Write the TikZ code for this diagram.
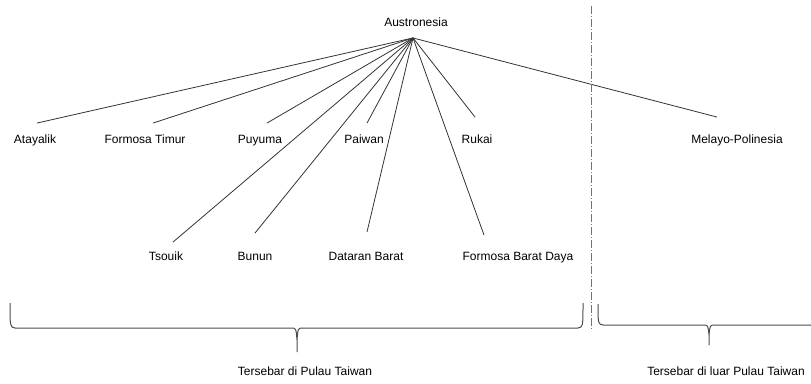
\documentclass[tikz,border=0pt]{standalone}
\usepackage{fontspec}
\setmainfont{Liberation Sans}
\usepackage{tikz}
\usetikzlibrary{shapes}

\begin{document}
\begin{tikzpicture}[x=1pt, y=-1pt,
	lang/.style = {font = \fontsize{12}{14}\selectfont,
				   text height = 9pt,
				   text depth = 2.5pt,
				   inner sep = 3pt},
	branch/.style = {draw = black!80,
					 line width = 0.8pt},
	bracket/.style = {draw = black!70,
					  line width = 1pt}]
	\useasboundingbox (0,0) rectangle (811,383);

	\draw (416, 23) node[lang](aus) {Austronesia};
	\coordinate (hub) at ([xshift = -3pt, yshift = -6pt]aus.south);

	\draw (35, 140)node[lang](ata) {Atayalik};
	\draw (145, 140)node[lang](ftim) {Formosa Timur};
	\draw (260, 140)node[lang](puy) {Puyuma};
	\draw (364, 140)node[lang](pai) {Paiwan};
	\draw (477, 140)node[lang](ruk) {Rukai};
	\draw (737, 140)node[lang](mel) {Melayo-Polinesia};

	\draw (166, 257)node[lang](tso) {Tsouik};
	\draw (255, 257)node[lang](bun) {Bunun};
	\draw (366, 257)node[lang](dat) {Dataran Barat};
	\draw (518, 257)node[lang](fbd) {Formosa Barat Daya};

	\draw (305, 372)node[lang](pulau) {Tersebar di Pulau Taiwan};
	\draw (726, 372)node[lang](luar) {Tersebar di luar Pulau Taiwan};

	\draw[branch] (hub) -- ([xshift = 2pt, yshift = 8pt]ata.north);
	\draw[branch] (hub) -- ([xshift = 8pt, yshift = 8pt]ftim.north);
	\draw[branch] (hub) -- ([xshift = 7pt, yshift = 8pt]puy.north);
	\draw[branch] (hub) -- ([xshift = 3pt, yshift = 8pt]pai.north);
	\draw[branch] (hub) -- ([xshift = -2pt, yshift = 14pt]ruk.north);
	\draw[branch] (hub) -- ([xshift = -20pt, yshift = 14pt]mel.north);
	\draw[branch] (hub) -- ([xshift = 7pt, yshift = 6pt]tso.north);
	\draw[branch] (hub) -- ([xshift = 0pt, yshift = 15pt]bun.north);
	\draw[branch] (hub) -- ([xshift = 1pt, yshift = 16pt]dat.north);
	\draw[branch] (hub) -- ([xshift = -34pt, yshift = 13pt]fbd.north);

	% batas pulau
	\draw[black!55, line width = 0.8pt,
		  dash pattern = on 8pt off 2pt on 1pt off 2pt] (591, 6) -- (591, 331);

	% kurung kurawal
	\draw[bracket] (10, 303) .. controls (10, 327) .. (15, 328) -- (291, 328)
		.. controls (296, 328) .. (297, 340) -- (297, 352)
		(297, 340) .. controls (298, 328) .. (303, 328) -- (578, 328)
		.. controls (583, 327) .. (583, 303);
	\draw[bracket] (598, 304) .. controls (598, 324) .. (603, 325) -- (703, 325)
		.. controls (708, 325) .. (709, 335) -- (709, 345)
		(709, 335) .. controls (710, 325) .. (715, 325) -- (811, 325);

\end{tikzpicture}
\end{document}
